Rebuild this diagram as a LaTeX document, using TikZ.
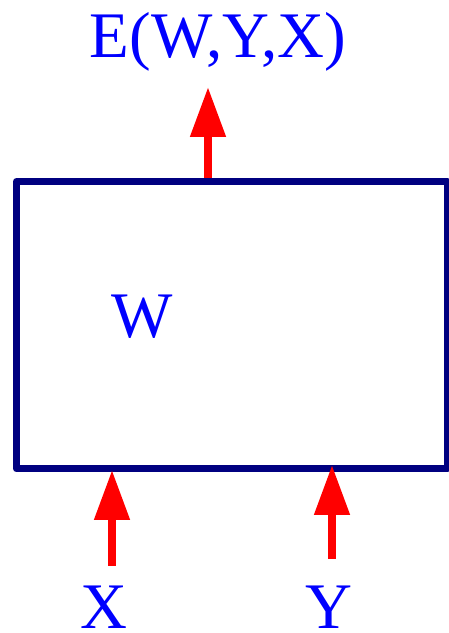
\documentclass[tikz,border=0pt]{standalone}
\usepackage{fontspec}
\setmainfont{Liberation Serif}
\usetikzlibrary{arrows.meta}
\definecolor{boxnavy}{RGB}{0,0,128}
\begin{document}
\begin{tikzpicture}[x=1pt, y=1pt,
    lbl/.style={text=blue, font=\fontsize{65}{65}\selectfont, inner sep=0pt, anchor=base},
    sig/.style={red, line width=8pt, -{Triangle[length=50pt, width=34pt]}}]
    \useasboundingbox (0,0) rectangle (448,633);
    % Draw the box
    \node[draw=boxnavy, line width=7pt, line join=round, inner sep=0pt,
          minimum width=431pt, minimum height=287.5pt] (box) at (232,307.75) {};
    \node[lbl] (w) at (142,295) {W};

    % Label the inputs and the output
    \node[lbl] (e) at (218,575) {E(W,Y,X)};
    \node[lbl] (x) at (103.5,5) {X};
    \node[lbl] (y) at (328.5,5) {Y};

    % Draw the arrows
    \coordinate (etip) at (208,546);
    \coordinate (xtail) at (112,67);
    \coordinate (xtip) at (112,163);
    \coordinate (ytail) at (332,74);
    \coordinate (ytip) at (332,168);
    \draw[sig] (box.north -| etip) -- (etip);
    \draw[sig] (xtail) -- (xtip);
    \draw[sig] (ytail) -- (ytip);
\end{tikzpicture}
\end{document}
